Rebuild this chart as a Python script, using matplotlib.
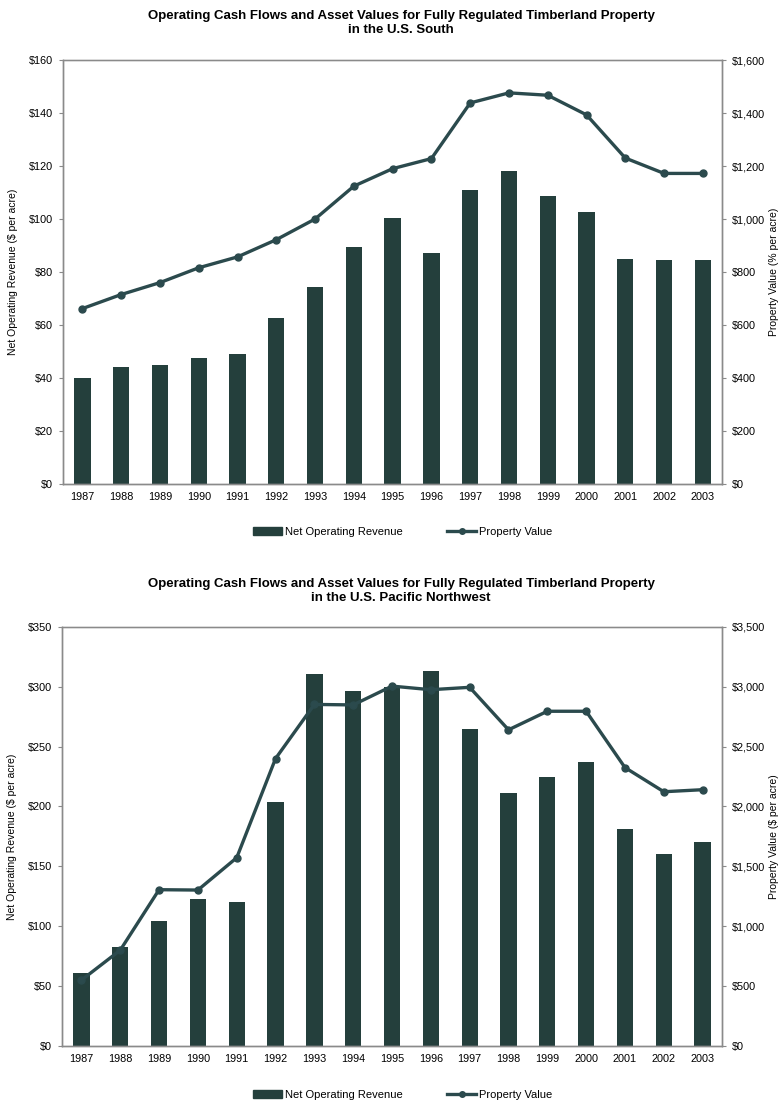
import numpy as np
import matplotlib
matplotlib.use("Agg")
import matplotlib.pyplot as plt
from matplotlib.ticker import FuncFormatter
from matplotlib.patches import Patch
from matplotlib.lines import Line2D

plt.rcParams['font.family'] = ['Liberation Sans', 'DejaVu Sans']

years = [str(y) for y in range(1987, 2004)]

# U.S. South
south_revenue = [40, 44, 45, 47.5, 49, 62.5, 74.5, 89.5, 100.5, 87, 111, 118, 108.5, 102.5, 85, 84.5, 84.5]
south_value = [662, 715, 760, 816, 857, 922, 1000, 1124, 1190, 1228, 1438, 1476, 1467, 1393, 1230, 1172, 1172]

# U.S. Pacific Northwest
pnw_revenue = [61, 82.5, 104, 122.5, 120, 203.5, 311, 296.5, 300, 313.5, 265, 211, 224.5, 237, 181.5, 160, 170]
pnw_value = [550, 800, 1305, 1302, 1572, 2400, 2852, 2848, 3005, 2975, 2995, 2640, 2795, 2795, 2325, 2123, 2140]

BAR_COLOR = '#243f3c'
LINE_COLOR = '#2b4a4d'
SPINE_COLOR = '#8a8a8a'


def money(v, pos):
    return '${:,.0f}'.format(v)


def draw_panel(fig, rect, revenue, value, rev_max, val_max, rev_step, val_step, right_label):
    ax = fig.add_axes(rect)
    x = np.arange(len(years))
    ax.bar(x, revenue, width=0.42, color=BAR_COLOR, zorder=2)
    ax.set_xlim(-0.5, len(years) - 0.5)
    ax.set_ylim(0, rev_max)
    ax.set_yticks(np.arange(0, rev_max + 1, rev_step))
    ax.yaxis.set_major_formatter(FuncFormatter(money))
    ax.set_xticks(x)
    ax.set_xticklabels(years)
    ax.set_ylabel('Net Operating Revenue ($ per acre)', fontsize=7.5, labelpad=8)

    ax2 = ax.twinx()
    ax2.plot(x, value, color=LINE_COLOR, lw=2.4, marker='o', ms=5, zorder=3)
    ax2.set_ylim(0, val_max)
    ax2.set_yticks(np.arange(0, val_max + 1, val_step))
    ax2.yaxis.set_major_formatter(FuncFormatter(money))
    ax2.set_ylabel(right_label, fontsize=7.5, labelpad=3)

    for a in (ax, ax2):
        for s in a.spines.values():
            s.set_color(SPINE_COLOR)
            s.set_linewidth(1.0)
        a.tick_params(labelsize=7.8, length=3, color=SPINE_COLOR, pad=4)
    ax.tick_params(axis='x', length=0, pad=6)
    ax.spines['top'].set_color('#b0b0b0')
    return ax, ax2


fig = plt.figure(figsize=(7.82, 11.03), dpi=100)

draw_panel(fig, [0.0806, 0.5612, 0.843, 0.3844], south_revenue, south_value,
           160, 1600, 20, 200, 'Property Value (% per acre)')
draw_panel(fig, [0.0793, 0.0517, 0.844, 0.380], pnw_revenue, pnw_value,
           350, 3500, 50, 500, 'Property Value ($ per acre)')

fig.text(0.513, 0.979, 'Operating Cash Flows and Asset Values for Fully Regulated Timberland Property\nin the U.S. South',
         ha='center', va='center', fontsize=9.5, fontweight='bold', linespacing=1.25)
fig.text(0.513, 0.464, 'Operating Cash Flows and Asset Values for Fully Regulated Timberland Property\nin the U.S. Pacific Northwest',
         ha='center', va='center', fontsize=9.5, fontweight='bold', linespacing=1.25)

handles = [Patch(color=BAR_COLOR), Line2D([], [], color=LINE_COLOR, lw=2.4, marker='o', ms=4)]
labels = ['Net Operating Revenue', 'Property Value']
for y in (0.5177, 0.0075):
    fig.legend(handles, labels, loc='center', bbox_to_anchor=(0.515, y), ncol=2, frameon=False,
               fontsize=8, handlelength=2.6, handleheight=0.8, columnspacing=4, handletextpad=0.3)

fig.savefig('out.png', dpi=100)
